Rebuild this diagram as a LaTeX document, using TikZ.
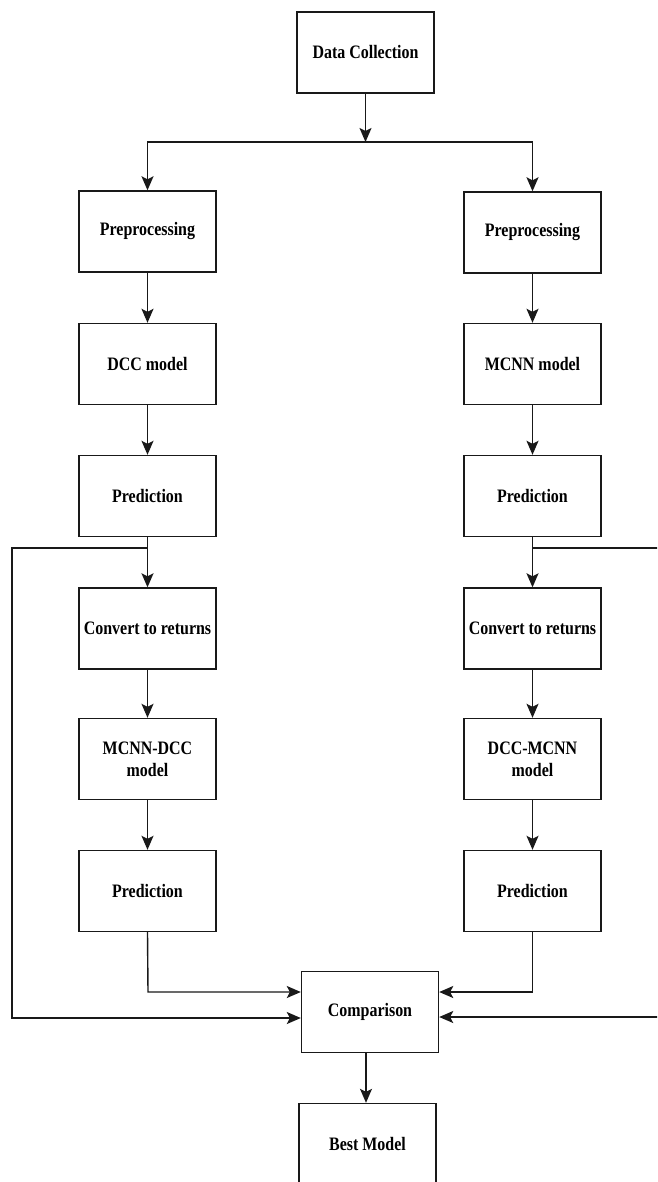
\documentclass[tikz,border=0pt]{standalone}
\usepackage{fontspec}
\setmainfont{Liberation Serif}[FakeStretch=0.84]
\usetikzlibrary{arrows.meta,calc}
\begin{document}
\begin{tikzpicture}[x=1pt,y=-1pt,
  box/.style={draw=black!90,line width=1.4pt,minimum width=137pt,minimum height=81pt,inner sep=0pt,align=center,font=\fontsize{19}{22}\selectfont\bfseries},
  conn/.style={draw=black!90,line width=1.4pt},
  arr/.style={conn,-{Stealth[length=14pt,width=12pt,inset=3pt]}}]
\useasboundingbox (0,0) rectangle (657,1182);
\clip (0,0) rectangle (657,1182);
\fill[white] (0,0) rectangle (657,1182);
% nodes
\node[box] (dc) at (365.5,52.5) {Data Collection};
\node[box] (lp1) at (147.5,231.5) {Preprocessing};
\node[box] (lp2) at (147.5,364) {DCC model};
\node[box] (lp3) at (147.5,496) {Prediction};
\node[box] (lp4) at (147.5,628.5) {Convert to returns};
\node[box] (lp5) at (147.5,759) {MCNN-DCC\\model};
\node[box] (lp6) at (147.5,891) {Prediction};
\node[box] (rp1) at (532.5,232.5) {Preprocessing};
\node[box] (rp2) at (532.5,364) {MCNN model};
\node[box] (rp3) at (532.5,496) {Prediction};
\node[box] (rp4) at (532.5,628.5) {Convert to returns};
\node[box] (rp5) at (532.5,759) {DCC-MCNN\\model};
\node[box] (rp6) at (532.5,891) {Prediction};
\node[box] (cmp) at (370,1012) {Comparison};
\node[box] (best) at (367.5,1144) {Best Model};
% coordinates
\coordinate (split) at (365.5,142);
\coordinate (fl) at (147.5,548);
\coordinate (fr) at (532.5,548);
\coordinate (lc) at (12,1018);
\coordinate (rc) at (672,1017);
\coordinate (lpr) at (148,992);
\coordinate (rpr) at (532.5,992);
\coordinate (cb) at (366,1052);
% connectors
\draw[arr] (dc) -- (split);
\draw[arr] (split) -| (lp1.north);
\draw[arr] (split) -| (rp1.north);
\draw[arr] (lp1) -- (lp2);
\draw[arr] (lp2) -- (lp3);
\draw[arr] (lp3) -- (lp4);
\draw[arr] (lp4) -- (lp5);
\draw[arr] (lp5) -- (lp6);
\draw[arr] (rp1) -- (rp2);
\draw[arr] (rp2) -- (rp3);
\draw[arr] (rp3) -- (rp4);
\draw[arr] (rp4) -- (rp5);
\draw[arr] (rp5) -- (rp6);
\draw[arr] (fl) -| (lc) -- (lc -| cmp.west);
\draw[arr] (fr) -| (rc) -- (rc -| cmp.east);
\draw[arr] (lp6.south) -- (lpr) -- (lpr -| cmp.west);
\draw[arr] (rp6.south) -- (rpr) -- (rpr -| cmp.east);
\draw[arr] (cb) -- (cb |- best.north);
\end{tikzpicture}
\end{document}
